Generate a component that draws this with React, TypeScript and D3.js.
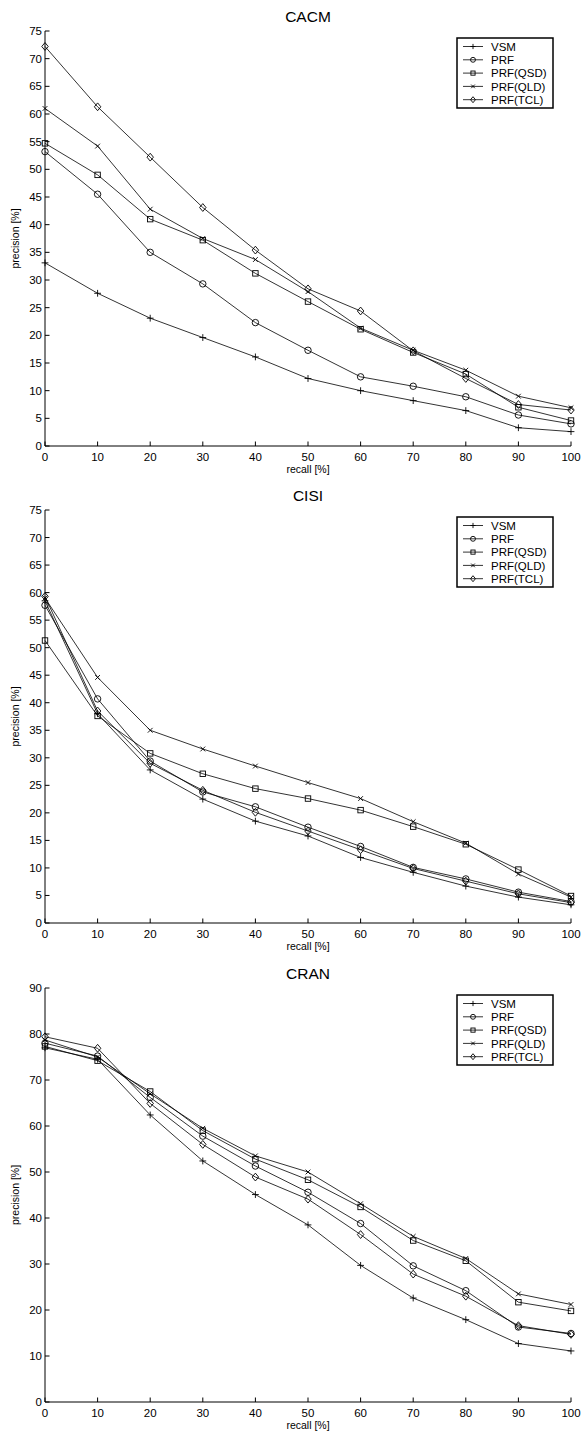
import React from "react";
import * as d3 from "d3";

const recall = [0, 10, 20, 30, 40, 50, 60, 70, 80, 90, 100];
const seriesNames = ["VSM", "PRF", "PRF(QSD)", "PRF(QLD)", "PRF(TCL)"];
const markerKinds = ["plus", "circle", "square", "cross", "diamond"];

const cacmVSM = [33.1, 27.6, 23.1, 19.6, 16.1, 12.2, 10.0, 8.2, 6.4, 3.3, 2.6];
const cacmPRF = [53.2, 45.5, 35.0, 29.3, 22.3, 17.3, 12.5, 10.8, 8.9, 5.6, 4.0];
const cacmQSD = [54.7, 49.0, 41.0, 37.2, 31.2, 26.1, 21.1, 16.9, 13.0, 7.0, 4.6];
const cacmQLD = [61.0, 54.2, 42.8, 37.5, 33.7, 27.9, 21.3, 17.3, 13.7, 9.0, 6.9];
const cacmTCL = [72.2, 61.3, 52.2, 43.1, 35.4, 28.4, 24.4, 17.2, 12.2, 7.5, 6.5];

const cisiVSM = [58.5, 38.0, 27.8, 22.5, 18.5, 15.8, 11.9, 9.2, 6.7, 4.7, 3.3];
const cisiPRF = [57.7, 40.7, 29.4, 23.8, 21.1, 17.4, 13.9, 10.1, 8.0, 5.6, 3.9];
const cisiQSD = [51.3, 37.6, 30.8, 27.1, 24.4, 22.6, 20.5, 17.5, 14.3, 9.7, 4.9];
const cisiQLD = [59.0, 44.6, 35.0, 31.6, 28.5, 25.5, 22.6, 18.4, 14.5, 8.9, 4.7];
const cisiTCL = [59.3, 38.5, 29.0, 24.1, 20.1, 16.7, 13.3, 9.9, 7.6, 5.3, 3.7];

const cranVSM = [77.0, 74.5, 62.4, 52.4, 45.1, 38.5, 29.7, 22.6, 17.9, 12.7, 11.1];
const cranPRF = [78.0, 75.2, 66.2, 57.8, 51.3, 45.6, 38.8, 29.6, 24.2, 16.3, 14.9];
const cranQSD = [77.3, 74.2, 67.5, 59.0, 52.8, 48.3, 42.4, 35.1, 30.7, 21.7, 19.8];
const cranQLD = [78.7, 75.0, 67.0, 59.5, 53.5, 50.0, 43.1, 36.0, 31.2, 23.5, 21.2];
const cranTCL = [79.4, 76.9, 64.9, 56.0, 48.9, 44.1, 36.4, 27.8, 23.0, 16.6, 14.7];

const ticks75 = [0, 5, 10, 15, 20, 25, 30, 35, 40, 45, 50, 55, 60, 65, 70, 75];
const ticks90 = [0, 10, 20, 30, 40, 50, 60, 70, 80, 90];

const panels = [
  { title: "CACM", yMax: 75, yTicks: ticks75, series: [cacmVSM, cacmPRF, cacmQSD, cacmQLD, cacmTCL], top: 31, bottom: 446 },
  { title: "CISI", yMax: 75, yTicks: ticks75, series: [cisiVSM, cisiPRF, cisiQSD, cisiQLD, cisiTCL], top: 510, bottom: 923 },
  { title: "CRAN", yMax: 90, yTicks: ticks90, series: [cranVSM, cranPRF, cranQSD, cranQLD, cranTCL], top: 988, bottom: 1402 },
];

const FONT = "'Liberation Sans', Arial, Helvetica, sans-serif";
const LEFT = 45;
const RIGHT = 571;

function Marker({ kind, x, y, s }: { kind: string; x: number; y: number; s: number }) {
  const common = { fill: "none", stroke: "#000", strokeWidth: 0.9 };
  if (kind === "plus") {
    return <path d={`M${x - s},${y}H${x + s}M${x},${y - s}V${y + s}`} {...common} />;
  }
  if (kind === "circle") {
    return <circle cx={x} cy={y} r={s * 0.95} {...common} />;
  }
  if (kind === "square") {
    const h = s * 0.8;
    return <rect x={x - h} y={y - h} width={2 * h} height={2 * h} {...common} />;
  }
  if (kind === "cross") {
    const h = s * 0.7;
    return <path d={`M${x - h},${y - h}L${x + h},${y + h}M${x - h},${y + h}L${x + h},${y - h}`} {...common} />;
  }
  const h = s * 1.15;
  const w = s * 0.95;
  return <path d={`M${x},${y - h}L${x + w},${y}L${x},${y + h}L${x - w},${y}Z`} {...common} />;
}

function Panel({ p }: { p: (typeof panels)[number] }) {
  const x = d3.scaleLinear().domain([0, 100]).range([LEFT, RIGHT]);
  const y = d3.scaleLinear().domain([0, p.yMax]).range([p.bottom, p.top]);
  const line = d3
    .line<number>()
    .x((_, i) => x(recall[i]))
    .y((d) => y(d));
  const lx = 457;
  const ly = p.top + 7;
  return (
    <g>
      <text x={(LEFT + RIGHT) / 2} y={p.top - 9.5} textAnchor="middle" fontSize={15.5} fontFamily={FONT}>
        {p.title}
      </text>
      <path d={`M${LEFT},${p.top}V${p.bottom}H${RIGHT}`} fill="none" stroke="#000" strokeWidth={1} />
      {p.yTicks.map((t) => (
        <g key={"y" + t}>
          <line x1={LEFT} x2={LEFT + 4.5} y1={y(t)} y2={y(t)} stroke="#000" strokeWidth={1} />
          <text x={LEFT - 3} y={y(t) + 4} textAnchor="end" fontSize={11.5} fontFamily={FONT}>
            {t}
          </text>
        </g>
      ))}
      {recall.map((t) => (
        <g key={"x" + t}>
          <line x1={x(t)} x2={x(t)} y1={p.bottom} y2={p.bottom - 4.5} stroke="#000" strokeWidth={1} />
          <text x={x(t)} y={p.bottom + 14.5} textAnchor="middle" fontSize={11.5} fontFamily={FONT}>
            {t}
          </text>
        </g>
      ))}
      <text x={(LEFT + RIGHT) / 2} y={p.bottom + 27} textAnchor="middle" fontSize={10.5} fontFamily={FONT}>
        recall [%]
      </text>
      <text
        transform={`translate(19,${(p.top + p.bottom) / 2}) rotate(-90)`}
        textAnchor="middle"
        fontSize={10.5}
        fontFamily={FONT}
      >
        precision [%]
      </text>
      {p.series.map((vals, si) => (
        <g key={"s" + si}>
          <path d={line(vals) || ""} fill="none" stroke="#000" strokeWidth={0.8} />
          {vals.map((v, i) => (
            <Marker key={i} kind={markerKinds[si]} x={x(recall[i])} y={y(v)} s={3.4} />
          ))}
        </g>
      ))}
      <rect x={lx} y={ly} width={96} height={70} fill="#fff" stroke="#000" strokeWidth={1.5} />
      {seriesNames.map((name, i) => {
        const cy = ly + 8.5 + i * 13.3;
        return (
          <g key={"l" + i}>
            <line x1={lx + 6} x2={lx + 26} y1={cy} y2={cy} stroke="#000" strokeWidth={0.8} />
            <Marker kind={markerKinds[i]} x={lx + 16} y={cy} s={2.6} />
            <text x={lx + 34} y={cy + 4.2} fontSize={11.5} fontFamily={FONT}>
              {name}
            </text>
          </g>
        );
      })}
    </g>
  );
}

export default function App() {
  return (
    <svg
      width={582}
      height={1437}
      style={{ position: "absolute", left: 0, top: 0, background: "#fff" }}
      xmlns="http://www.w3.org/2000/svg"
    >
      <rect x={0} y={0} width={582} height={1437} fill="#fff" />
      {panels.map((p) => (
        <Panel key={p.title} p={p} />
      ))}
    </svg>
  );
}
